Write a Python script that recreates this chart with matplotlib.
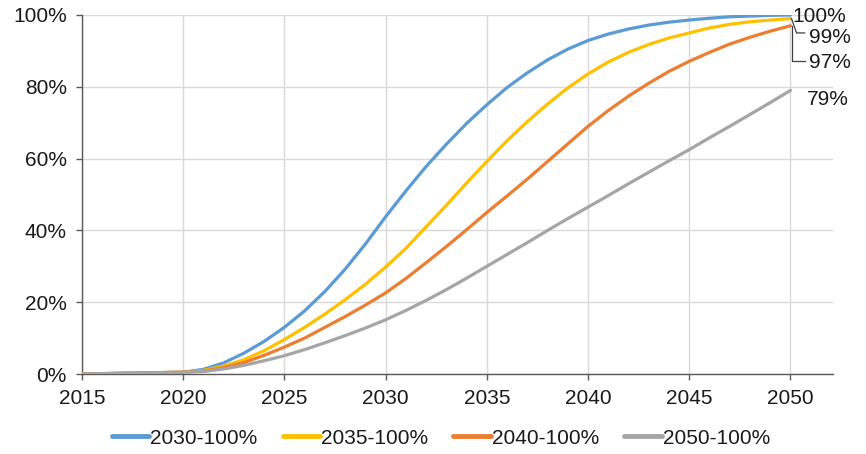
import matplotlib
matplotlib.use("Agg")
import matplotlib.pyplot as plt
from matplotlib.ticker import FuncFormatter, MultipleLocator

plt.rcParams['font.family'] = ['Liberation Sans', 'DejaVu Sans']

years = list(range(2015, 2051))

share_2030 = [0, 0.1, 0.2, 0.3, 0.4, 0.5, 1.3, 3.1, 5.8, 9.1, 13, 17.6, 23, 29.2, 36.2, 43.8,
              51, 57.8, 64, 69.8, 75, 79.8, 83.9, 87.5, 90.5, 92.9, 94.7, 96.1, 97.2, 98,
              98.6, 99.1, 99.5, 99.7, 99.9, 100]
share_2035 = [0, 0.1, 0.2, 0.3, 0.4, 0.5, 1.0, 2.2, 4, 6.5, 9.6, 13, 16.7, 20.7, 25, 29.8,
              35, 41, 47, 53.2, 59.2, 65, 70.3, 75.2, 79.7, 83.6, 86.9, 89.6, 91.8, 93.6,
              95, 96.4, 97.4, 98.1, 98.6, 99]
share_2040 = [0, 0.1, 0.2, 0.3, 0.4, 0.5, 0.8, 1.8, 3.2, 5.2, 7.5, 10, 13, 16, 19.2, 22.6,
              26.6, 31, 35.5, 40.2, 45, 49.6, 54.3, 59.2, 64.1, 69, 73.4, 77.4, 81, 84.3,
              87.1, 89.6, 91.9, 93.8, 95.5, 97]
share_2050 = [0, 0.1, 0.2, 0.3, 0.4, 0.5, 0.7, 1.4, 2.4, 3.7, 5.1, 6.8, 8.7, 10.7, 12.8, 15.1,
              17.7, 20.5, 23.5, 26.7, 30, 33.3, 36.6, 40, 43.3, 46.5, 49.7, 53, 56.2, 59.4,
              62.5, 65.8, 69, 72.3, 75.6, 79]

series_names = ['2030-100%', '2035-100%', '2040-100%', '2050-100%']
series_values = [share_2030, share_2035, share_2040, share_2050]
end_labels = ['100%', '99%', '97%', '79%']
colors = ['#5B9BD5', '#FFC000', '#ED7D31', '#A5A5A5']

FS = 15

fig = plt.figure(figsize=(8.66, 4.54), dpi=100)
ax = fig.add_axes([82 / 866, 1 - 374 / 454, (833 - 82) / 866, (374 - 15) / 454])

for name, vals, c in zip(series_names, series_values, colors):
    ax.plot(years, vals, color=c, lw=2.3, label=name, solid_capstyle='round',
            solid_joinstyle='round', zorder=3)

ax.set_xlim(2015, 2052.1)
ax.set_ylim(0, 100)
ax.xaxis.set_major_locator(MultipleLocator(5))
ax.yaxis.set_major_locator(MultipleLocator(20))
ax.yaxis.set_major_formatter(FuncFormatter(lambda v, p: f'{int(round(v))}%'))
ax.grid(True, color='#D9D9D9', lw=1.0, zorder=0)
ax.set_axisbelow(True)
for s in ['top', 'right']:
    ax.spines[s].set_visible(False)
for s in ['left', 'bottom']:
    ax.spines[s].set_color('#595959')
    ax.spines[s].set_linewidth(1.0)
ax.tick_params(axis='both', colors='#595959', labelcolor='#1a1a1a', labelsize=FS,
               length=4, width=1.0, direction='out')
ax.tick_params(axis='x', pad=7)
ax.tick_params(axis='y', pad=7)

# End-of-line value labels with leader lines
x_end = years[-1]
txt = dict(fontsize=FS, color='#1a1a1a', va='center', ha='left', clip_on=False)
ax.text(2050.1, 99.7, end_labels[0], **txt)
y99 = series_values[1][-1]
ax.plot([x_end + 0.05, x_end + 0.3, x_end + 0.7], [y99, 95.0, 95.0],
        color='#404040', lw=0.9, clip_on=False, zorder=4)
ax.text(2050.93, 93.6, end_labels[1], **txt)
y97 = series_values[2][-1]
ax.plot([x_end + 0.05, x_end + 0.05, x_end + 0.7], [y97, 87.3, 87.3],
        color='#404040', lw=0.9, clip_on=False, zorder=4)
ax.text(2050.93, 86.9, end_labels[2], **txt)
ax.text(2050.83, 76.4, end_labels[3], **txt)

leg = fig.legend(loc='center', bbox_to_anchor=(0.509, 1 - 438 / 454), ncol=4,
                 frameon=False, fontsize=FS, handlelength=1.8, handletextpad=0.05,
                 columnspacing=1.2, borderaxespad=0)
for line in leg.get_lines():
    line.set_linewidth(3.5)
for t in leg.get_texts():
    t.set_color('#1a1a1a')

fig.savefig('out.png', dpi=100, facecolor='white')
